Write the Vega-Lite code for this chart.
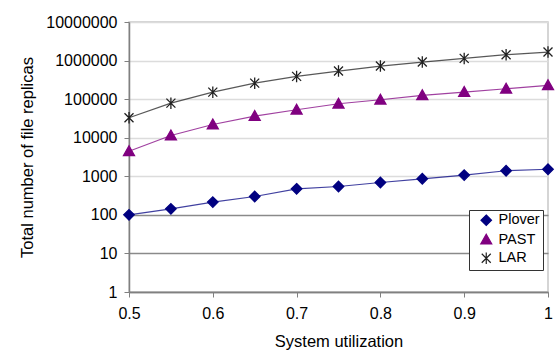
{
  "$schema": "https://vega.github.io/schema/vega-lite/v6.json",
  "width": 419,
  "height": 270,
  "autosize": "none",
  "padding": {"left": 129, "top": 22, "right": 7, "bottom": 69},
  "background": "white",
  "config": {
    "font": "Liberation Sans",
    "view": {"stroke": "#c8c8c8", "strokeWidth": 1.5}
  },
  "data": {
    "values": [
      {"u": 0.5, "replicas": 100, "series": "Plover"},
      {"u": 0.55, "replicas": 143, "series": "Plover"},
      {"u": 0.6, "replicas": 214, "series": "Plover"},
      {"u": 0.65, "replicas": 299, "series": "Plover"},
      {"u": 0.7, "replicas": 473, "series": "Plover"},
      {"u": 0.75, "replicas": 543, "series": "Plover"},
      {"u": 0.8, "replicas": 690, "series": "Plover"},
      {"u": 0.85, "replicas": 861, "series": "Plover"},
      {"u": 0.9, "replicas": 1074, "series": "Plover"},
      {"u": 0.95, "replicas": 1390, "series": "Plover"},
      {"u": 1.0, "replicas": 1520, "series": "Plover"},
      {"u": 0.5, "replicas": 4460, "series": "PAST"},
      {"u": 0.55, "replicas": 11400, "series": "PAST"},
      {"u": 0.6, "replicas": 22000, "series": "PAST"},
      {"u": 0.65, "replicas": 36200, "series": "PAST"},
      {"u": 0.7, "replicas": 53000, "series": "PAST"},
      {"u": 0.75, "replicas": 76000, "series": "PAST"},
      {"u": 0.8, "replicas": 96400, "series": "PAST"},
      {"u": 0.85, "replicas": 125000, "series": "PAST"},
      {"u": 0.9, "replicas": 152000, "series": "PAST"},
      {"u": 0.95, "replicas": 186000, "series": "PAST"},
      {"u": 1.0, "replicas": 227000, "series": "PAST"},
      {"u": 0.5, "replicas": 32900, "series": "LAR"},
      {"u": 0.55, "replicas": 78700, "series": "LAR"},
      {"u": 0.6, "replicas": 152000, "series": "LAR"},
      {"u": 0.65, "replicas": 260000, "series": "LAR"},
      {"u": 0.7, "replicas": 389000, "series": "LAR"},
      {"u": 0.75, "replicas": 534000, "series": "LAR"},
      {"u": 0.8, "replicas": 720000, "series": "LAR"},
      {"u": 0.85, "replicas": 914000, "series": "LAR"},
      {"u": 0.9, "replicas": 1140000, "series": "LAR"},
      {"u": 0.95, "replicas": 1420000, "series": "LAR"},
      {"u": 1.0, "replicas": 1660000, "series": "LAR"}
    ]
  },
  "encoding": {
    "x": {
      "field": "u",
      "type": "quantitative",
      "title": "System utilization",
      "scale": {"domain": [0.5, 1], "nice": false, "zero": false},
      "axis": {
        "values": [0.5, 0.6, 0.7, 0.8, 0.9, 1],
        "format": "~g",
        "grid": false,
        "domainColor": "#808080",
        "domainWidth": 1.5,
        "tickColor": "#808080",
        "tickSize": 5,
        "labelFontSize": 16,
        "labelColor": "#000000",
        "labelPadding": 8,
        "labelFlush": false,
        "titleFontSize": 16.5,
        "titleFontWeight": "normal",
        "titleColor": "#000000",
        "titlePadding": 12
      }
    },
    "y": {
      "field": "replicas",
      "type": "quantitative",
      "title": "Total number of file replicas",
      "scale": {"type": "log", "domain": [1, 10000000], "nice": false},
      "axis": {
        "values": [1, 10, 100, 1000, 10000, 100000, 1000000, 10000000],
        "format": "d",
        "grid": true,
        "gridColor": {"condition": {"test": "datum.value <= 100", "value": "#8a8a8a"}, "value": "#dcdcdc"},
        "gridWidth": 1.5,
        "domainColor": "#808080",
        "domainWidth": 1.5,
        "tickColor": "#808080",
        "tickSize": 5,
        "labelFontSize": 16,
        "labelColor": "#000000",
        "labelPadding": 7,
        "labelFlush": false,
        "titleFontSize": 16.5,
        "titleFontWeight": "normal",
        "titleColor": "#000000",
        "titlePadding": 10
      }
    }
  },
  "layer": [
    {
      "mark": {"type": "line", "strokeWidth": 1.2, "opacity": 0.75},
      "encoding": {
        "stroke": {
          "field": "series",
          "type": "nominal",
          "scale": {"domain": ["Plover", "PAST", "LAR"], "range": ["#000080", "#800080", "#202020"]},
          "legend": {"title": null, "orient": "none", "legendX": 340, "legendY": 188, "symbolOpacity": 1}
        }
      }
    },
    {
      "mark": {"type": "point", "filled": true, "strokeWidth": 1.3, "opacity": 1, "size": 100},
      "encoding": {
        "fill": {
          "field": "series",
          "type": "nominal",
          "scale": {"domain": ["Plover", "PAST", "LAR"], "range": ["#000080", "#800080", "#202020"]},
          "legend": {"title": null, "orient": "none", "legendX": 340, "legendY": 188, "symbolOpacity": 1}
        },
        "stroke": {
          "field": "series",
          "type": "nominal",
          "legend": {"title": null, "orient": "none", "legendX": 340, "legendY": 188, "symbolOpacity": 1}
        },
        "shape": {
          "field": "series",
          "type": "nominal",
          "scale": {
            "domain": ["Plover", "PAST", "LAR"],
            "range": [
              "M0,-1.05L1.05,0L0,1.05L-1.05,0Z",
              "M0,-1.1L1.1,0.85L-1.1,0.85Z",
              "M-0.9,-0.9L0.9,0.9M-0.9,0.9L0.9,-0.9M0,-1.15L0,1.15"
            ]
          },
          "legend": {
            "title": null,
            "orient": "none",
            "legendX": 340,
            "legendY": 188,
            "strokeColor": "#333333",
            "fillColor": "white",
            "padding": 3,
            "cornerRadius": 0,
            "symbolSize": 100,
            "symbolOpacity": 1,
            "symbolStrokeWidth": 1.2,
            "symbolOffset": 7,
            "labelOffset": 5,
            "labelFontSize": 14.5,
            "labelColor": "#000000",
            "rowPadding": 3.5
          }
        }
      }
    }
  ]
}
